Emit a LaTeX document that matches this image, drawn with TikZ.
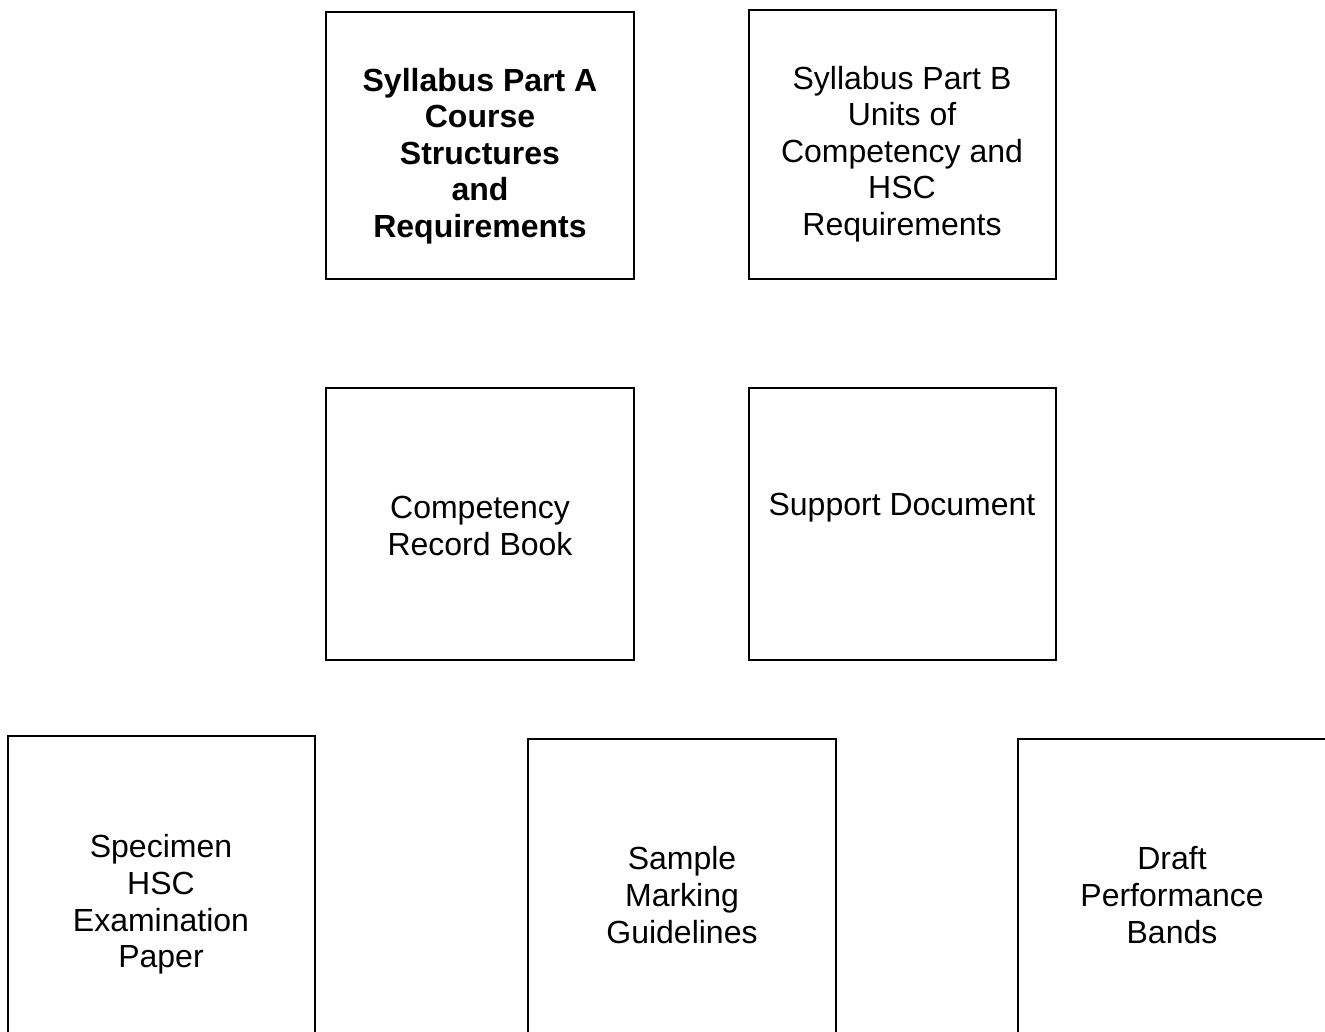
\documentclass[tikz,border=0pt]{standalone}
\usepackage{fontspec}
\setmainfont{Liberation Sans}
\begin{document}
\begin{tikzpicture}[x=1pt,y=-1pt,
  boxshape/.style={draw=black,line width=1.4pt,rectangle,inner sep=0pt},
  lbl/.style={align=center,inner sep=0pt,font=\fontsize{32}{36.6}\selectfont}]
\useasboundingbox (0,0) rectangle (1325,1032);
\clip (0,0) rectangle (1325,1032);
\fill[white] (0,0) rectangle (1325,1032);
% boxes
\node[boxshape,minimum width=308pt,minimum height=267pt] (bA) at (480,145.5) {};
\node[boxshape,minimum width=307pt,minimum height=269pt] (bB) at (902.5,144.5) {};
\node[boxshape,minimum width=308pt,minimum height=272pt] (bC) at (480,524) {};
\node[boxshape,minimum width=307pt,minimum height=272pt] (bD) at (902.5,524) {};
\node[boxshape,minimum width=307pt,minimum height=324pt] (bE) at (161.5,898) {};
\node[boxshape,minimum width=308pt,minimum height=321pt] (bF) at (682,899.5) {};
\node[boxshape,minimum width=312pt,minimum height=321pt] (bG) at (1174,899.5) {};
% labels
\node[lbl,font=\fontsize{32}{36.6}\selectfont\bfseries] (tA) at (480,156) {Syllabus Part A\\Course\\Structures\\and\\Requirements};
\node[lbl] (tB) at (902,154) {Syllabus Part B\\Units of\\Competency and\\HSC\\Requirements};
\node[lbl] (tC) at (480,526) {Competency\\Record Book};
\node[lbl] (tD) at (902,508) {Support Document};
\node[lbl] (tE) at (161,904.5) {Specimen\\HSC\\Examination\\Paper};
\node[lbl] (tF) at (682,895) {Sample\\Marking\\Guidelines};
\node[lbl] (tG) at (1172,895) {Draft\\Performance\\Bands};
\end{tikzpicture}
\end{document}
